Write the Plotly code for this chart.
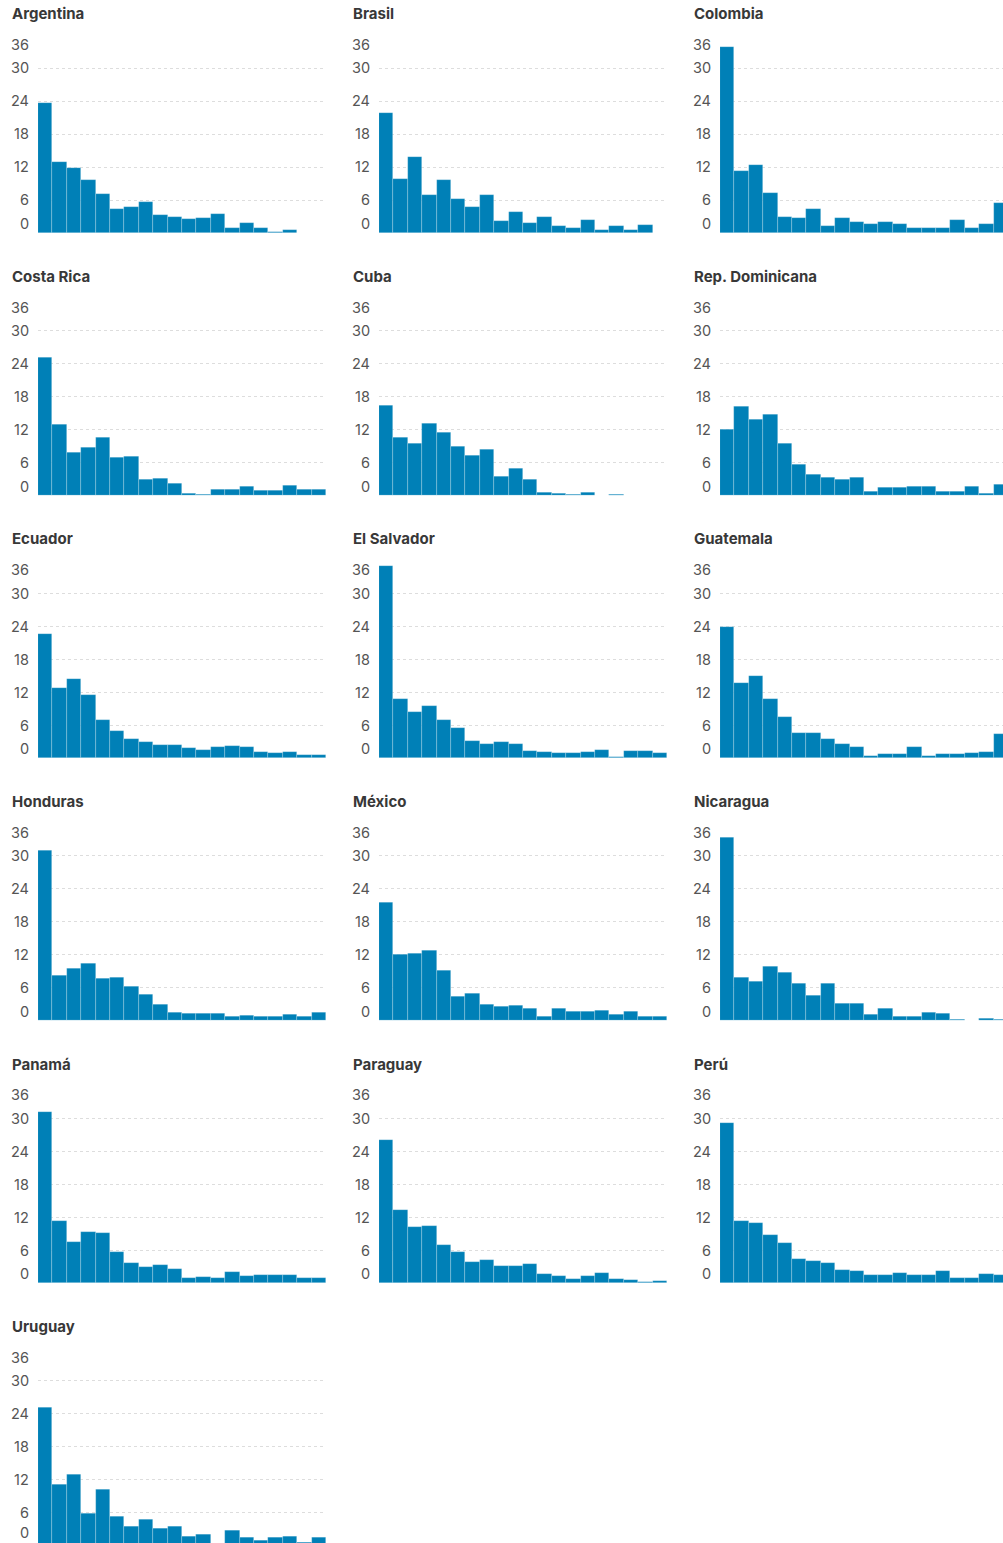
import plotly.graph_objects as go

# ---- data (percent of cases per bin) ----
countries = ["Argentina", "Brasil", "Colombia", "Costa Rica", "Cuba", "Rep. Dominicana",
             "Ecuador", "El Salvador", "Guatemala", "Honduras", "México", "Nicaragua",
             "Panamá", "Paraguay", "Perú", "Uruguay"]
bins = list(range(20))
y_ticks = [0, 6, 12, 18, 24, 30, 36]

argentina = [23.6, 12.9, 11.8, 9.7, 7.1, 4.4, 4.7, 5.6, 3.3, 3.0, 2.6, 2.8, 3.5, 0.85, 1.75, 1.0, 0.25, 0.5, 0, 0]
brasil = [21.9, 9.8, 13.9, 6.9, 9.6, 6.1, 4.7, 6.9, 2.1, 3.9, 1.8, 2.9, 1.3, 1.0, 2.3, 0.55, 1.3, 0.55, 1.5, 0]
colombia = [33.8, 11.2, 12.3, 7.2, 3.0, 2.7, 4.4, 1.3, 2.7, 2.0, 1.6, 2.0, 1.6, 0.9, 0.9, 0.9, 2.3, 0.9, 1.6, 5.4]
costa_rica = [25.1, 13.0, 7.8, 8.8, 10.5, 6.85, 7.1, 2.85, 3.15, 2.1, 0.4, 0.1, 1.15, 1.15, 1.6, 0.9, 0.9, 1.8, 1.15, 1.15]
cuba = [16.3, 10.6, 9.45, 13.1, 11.45, 9.0, 7.3, 8.3, 3.45, 4.9, 2.85, 0.55, 0.35, 0.2, 0.55, 0, 0.2, 0, 0, 0]
rep_dominicana = [12.0, 16.2, 13.9, 14.7, 9.45, 5.6, 3.75, 3.2, 2.95, 3.2, 0.8, 1.4, 1.4, 1.7, 1.7, 0.8, 0.8, 1.7, 0.4, 1.95]
ecuador = [22.5, 12.75, 14.3, 11.4, 6.85, 4.9, 3.45, 2.85, 2.45, 2.45, 1.75, 1.5, 2.0, 2.25, 2.0, 1.15, 0.9, 1.15, 0.5, 0.5]
el_salvador = [34.9, 10.7, 8.4, 9.5, 7.0, 5.4, 3.05, 2.5, 2.85, 2.5, 1.3, 1.1, 0.85, 0.85, 1.1, 1.4, 0.25, 1.3, 1.3, 0.9]
guatemala = [23.75, 13.6, 15.0, 10.8, 7.45, 4.6, 4.6, 3.45, 2.55, 1.95, 0.4, 0.65, 0.65, 1.95, 0.4, 0.65, 0.65, 0.85, 1.1, 4.4]
honduras = [30.95, 8.15, 9.5, 10.3, 7.55, 7.8, 6.1, 4.8, 2.95, 1.5, 1.25, 1.25, 1.25, 0.8, 1.0, 0.8, 0.65, 1.05, 0.65, 1.5]
mexico = [21.5, 12.0, 12.25, 12.75, 9.15, 4.45, 4.95, 2.9, 2.6, 2.8, 2.15, 0.8, 2.15, 1.55, 1.55, 1.9, 1.05, 1.55, 0.8, 0.8]
nicaragua = [33.3, 7.9, 7.05, 9.8, 8.75, 6.65, 4.6, 6.65, 3.05, 3.05, 1.05, 2.25, 0.8, 0.8, 1.5, 1.25, 0.2, 0, 0.45, 0.2]
panama = [31.15, 11.3, 7.45, 9.35, 9.1, 5.6, 3.7, 2.9, 3.3, 2.55, 0.9, 1.15, 0.9, 1.95, 1.35, 1.5, 1.5, 1.5, 0.9, 0.9]
paraguay = [26.05, 13.2, 10.1, 10.4, 6.9, 5.65, 3.8, 4.2, 3.15, 3.15, 3.4, 1.6, 1.35, 0.75, 1.35, 1.8, 0.75, 0.5, 0.15, 0.35]
peru = [29.05, 11.3, 11.0, 8.75, 7.2, 4.35, 3.95, 3.65, 2.3, 2.1, 1.4, 1.4, 1.8, 1.4, 1.4, 2.1, 0.95, 0.95, 1.6, 1.4]
uruguay = [25.05, 11.1, 12.9, 5.85, 10.1, 5.35, 3.4, 4.75, 3.05, 3.4, 1.6, 2.0, 0.2, 2.7, 1.4, 0.9, 1.4, 1.65, 0.55, 1.4]

series = [argentina, brasil, colombia, costa_rica, cuba, rep_dominicana, ecuador, el_salvador,
          guatemala, honduras, mexico, nicaragua, panama, paraguay, peru, uruguay]

# ---- layout geometry (pixels) ----
W, H = 1003, 1543
COL_LEFT = [38, 379, 720]
PLOT_W = 288
ROW_TOP0 = 35
ROW_STEP = 262.5
PLOT_H = 198
YMAX = 36
BAR_COLOR = "#0080b7"
GRID_COLOR = "#dddddd"
LABEL_COLOR = "#555555"
TITLE_COLOR = "#383838"
FONT = "Inter, Roboto, 'Noto Sans', sans-serif"

fig = go.Figure()
layout = dict(
    width=W, height=H,
    margin=dict(l=0, r=0, t=0, b=0),
    paper_bgcolor="white", plot_bgcolor="white",
    showlegend=False, bargap=0,
    font=dict(family=FONT),
)
annotations = []

nbins = len(bins)
px_per_bin = PLOT_W / nbins
px_per_unit = PLOT_H / YMAX

for i, (name, vals) in enumerate(zip(countries, series)):
    r, c = divmod(i, 3)
    k = i + 1
    xa = "x" if k == 1 else f"x{k}"
    ya = "y" if k == 1 else f"y{k}"
    left = COL_LEFT[c]
    right = min(left + PLOT_W, W)
    top = ROW_TOP0 + ROW_STEP * r
    bottom = top + PLOT_H
    clipped = bottom > H
    if clipped:
        ydom = [0, 1 - top / H]
        yrange = [(bottom - H) / px_per_unit, YMAX]
    else:
        ydom = [1 - bottom / H, 1 - top / H]
        yrange = [0, YMAX]
    xrange = [0, (right - left) / px_per_bin]

    fig.add_trace(go.Bar(
        x=bins, y=vals, width=1, offset=0,
        marker=dict(color=BAR_COLOR, line=dict(color="rgba(255,255,255,0.35)", width=0.6)),
        xaxis=xa, yaxis=ya, hoverinfo="y",
    ))

    layout["xaxis" if k == 1 else f"xaxis{k}"] = dict(
        domain=[left / W, right / W], range=xrange, anchor=ya,
        showgrid=False, zeroline=False, showticklabels=False, ticks="", showline=False,
        fixedrange=True,
    )
    layout["yaxis" if k == 1 else f"yaxis{k}"] = dict(
        domain=ydom, range=yrange, anchor=xa,
        tickvals=y_ticks, showticklabels=False, ticks="",
        showgrid=True, gridcolor=GRID_COLOR, gridwidth=1, griddash="dot",
        zeroline=False, showline=False, fixedrange=True,
    )

    # panel title
    annotations.append(dict(
        text=name, xref="paper", yref="paper",
        x=(left - 27) / W, y=1 - (14 + ROW_STEP * r) / H,
        xanchor="left", yanchor="middle", showarrow=False, borderpad=0,
        font=dict(family=FONT, size=15, color=TITLE_COLOR, weight=700),
    ))
    # y tick labels, first/last flush with the plot edges
    for v in y_ticks:
        if v == YMAX:
            yanc = "top"
        elif v == 0:
            yanc = "bottom"
        else:
            yanc = "middle"
        yshift = 0
        if v < yrange[0]:
            # value lies below the visible part of the axis: place at the page bottom
            yref_, yval = "paper", 0
            yshift = 1
        else:
            yref_, yval = ya, v
        annotations.append(dict(
            text=str(v), xref="paper", yref=yref_,
            x=(left - 8) / W, y=yval, xanchor="right", yanchor=yanc, yshift=yshift,
            showarrow=False, borderpad=0,
            font=dict(family=FONT, size=14.5, color=LABEL_COLOR),
        ))

layout["annotations"] = annotations
fig.update_layout(**layout)
fig.write_html(
    "out.html",
    config={"displayModeBar": False},
    post_script="document.body.style.margin='0';document.body.style.overflow='hidden';",
)
